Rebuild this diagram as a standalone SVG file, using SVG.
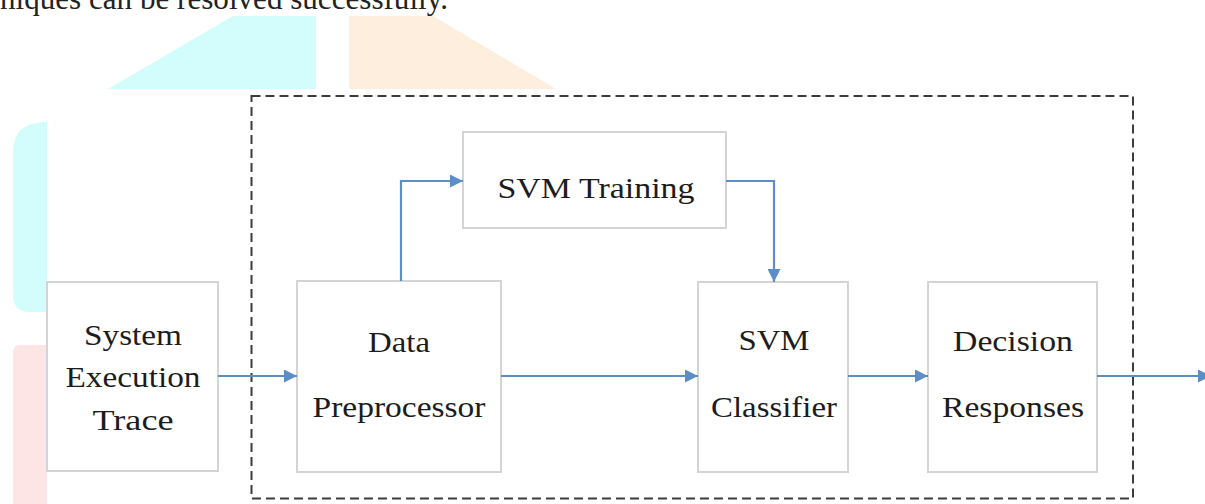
<svg xmlns="http://www.w3.org/2000/svg" width="1205" height="504" viewBox="0 0 1205 504">
  <style>
    .box { fill: #ffffff; stroke: #d4d4d4; stroke-width: 2; }
    .lbl { font-family: "Liberation Serif", "DejaVu Serif", serif; font-size: 29px; fill: #1c1c1c; text-anchor: middle; }
    .top { font-family: "Liberation Serif", "DejaVu Serif", serif; font-size: 31px; fill: #222222; }
    .conn { fill: none; stroke: #5b8ec6; stroke-width: 2.2; marker-end: url(#arr); }
    .frame { fill: none; stroke: #3c3c3c; stroke-width: 2; stroke-dasharray: 9 5; }
  </style>
  <defs>
    <marker id="arr" viewBox="0 0 10 10" refX="10" refY="5" markerUnits="userSpaceOnUse" markerWidth="15" markerHeight="13" orient="auto">
      <path d="M0,0 L10,5 L0,10 z" fill="#5b8ec6"/>
    </marker>
  </defs>
  <rect width="1205" height="504" fill="#ffffff"/>

  <g id="background">
    <path d="M233,16 H316 V89 H108 Z" fill="#d3fdfd"/>
    <path d="M349,16 H433 L556,89 H349 Z" fill="#fdeedd"/>
    <path d="M47,122 V312 H30 Q13,312 13,295 V152 Q13,122 47,122 Z" fill="#d3fdfd"/>
    <path d="M47,345 V504 H13 V352 Q13,345 20,345 Z" fill="#fde5e5"/>
    <text class="top" x="0" y="9" textLength="448" lengthAdjust="spacingAndGlyphs">niques can be resolved successfully.</text>
  </g>

  <rect class="frame" x="251.5" y="96" width="881.5" height="402.5"/>

  <g id="node-trace">
    <rect class="box" x="47" y="282" width="171" height="189"/>
    <text class="lbl" x="133" y="345" textLength="98" lengthAdjust="spacingAndGlyphs">System</text>
    <text class="lbl" x="133" y="387" textLength="135" lengthAdjust="spacingAndGlyphs">Execution</text>
    <text class="lbl" x="133" y="430" textLength="81" lengthAdjust="spacingAndGlyphs">Trace</text>
  </g>

  <g id="node-preprocessor">
    <rect class="box" x="297" y="281" width="204" height="191"/>
    <text class="lbl" x="399" y="352" textLength="62" lengthAdjust="spacingAndGlyphs">Data</text>
    <text class="lbl" x="399" y="417" textLength="173" lengthAdjust="spacingAndGlyphs">Preprocessor</text>
  </g>

  <g id="node-training">
    <rect class="box" x="463" y="132" width="263" height="96"/>
    <text class="lbl" x="596" y="198" textLength="197" lengthAdjust="spacingAndGlyphs">SVM Training</text>
  </g>

  <g id="node-classifier">
    <rect class="box" x="698" y="282" width="150" height="190"/>
    <text class="lbl" x="774" y="350" textLength="71" lengthAdjust="spacingAndGlyphs">SVM</text>
    <text class="lbl" x="774" y="417" textLength="126" lengthAdjust="spacingAndGlyphs">Classifier</text>
  </g>

  <g id="node-decision">
    <rect class="box" x="928" y="282" width="169" height="190"/>
    <text class="lbl" x="1013" y="351" textLength="120" lengthAdjust="spacingAndGlyphs">Decision</text>
    <text class="lbl" x="1013" y="417" textLength="142" lengthAdjust="spacingAndGlyphs">Responses</text>
  </g>

  <g id="connectors">
    <path class="conn" d="M218,376 H297"/>
    <path class="conn" d="M401,281 V181 H463"/>
    <path class="conn" d="M726,181 H774 V282"/>
    <path class="conn" d="M501,376 H698"/>
    <path class="conn" d="M848,376 H928"/>
    <path class="conn" d="M1097,376 H1211"/>
  </g>
</svg>
